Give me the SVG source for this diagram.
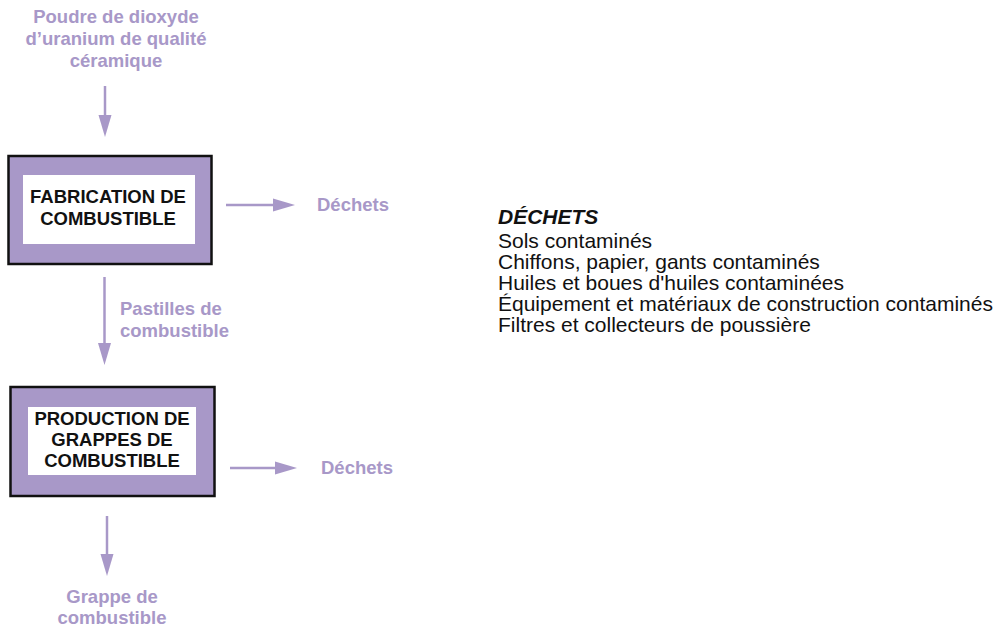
<svg xmlns="http://www.w3.org/2000/svg" width="1006" height="626" viewBox="0 0 1006 626">
<style>
.outer{fill:#a898c8;stroke:#111;stroke-width:2.5}
.inner{fill:#fff}
.box{font-family:"Liberation Sans",Arial,sans-serif;font-weight:bold;font-size:18.5px;fill:#111;text-anchor:middle}
.lbl{font-family:"Liberation Sans",Arial,sans-serif;font-weight:bold;font-size:18.5px;fill:#a898c8}
.mid{text-anchor:middle}
.conn{stroke:#a898c8;stroke-width:2.5;fill:none;marker-end:url(#ah)}
.list{font-family:"Liberation Sans",Arial,sans-serif;font-size:21px;fill:#111}
</style>
<defs>
<marker id="ah" markerUnits="userSpaceOnUse" markerWidth="22" markerHeight="14" refX="12" refY="7" orient="auto">
<path d="M0,0.5 L22,7 L0,13.5 z" fill="#a898c8"/>
</marker>
</defs>
<g id="source">
<text class="lbl mid" x="116" y="23">Poudre de dioxyde</text>
<text class="lbl mid" x="116" y="45">d’uranium de qualité</text>
<text class="lbl mid" x="116" y="67">céramique</text>
</g>
<g id="fabrication">
<rect class="outer" x="8.5" y="156" width="203" height="108"/>
<rect class="inner" x="23" y="175" width="172" height="69"/>
<text class="box" x="108" y="203">FABRICATION DE</text>
<text class="box" x="108" y="225">COMBUSTIBLE</text>
</g>
<g id="dechets1">
<text class="lbl" x="317" y="211">Déchets</text>
</g>
<g id="pastilles">
<text class="lbl" x="120" y="315">Pastilles de</text>
<text class="lbl" x="120" y="337">combustible</text>
</g>
<g id="production">
<rect class="outer" x="10.5" y="387" width="204" height="109"/>
<rect class="inner" x="28" y="407" width="168" height="68"/>
<text class="box" x="112" y="425">PRODUCTION DE</text>
<text class="box" x="112" y="446">GRAPPES DE</text>
<text class="box" x="112" y="467">COMBUSTIBLE</text>
</g>
<g id="dechets2">
<text class="lbl" x="321" y="474">Déchets</text>
</g>
<g id="grappe">
<text class="lbl mid" x="112" y="603">Grappe de</text>
<text class="lbl mid" x="112" y="624">combustible</text>
</g>
<g id="legend">
<text class="list" x="498" y="224" font-weight="bold" font-style="italic">DÉCHETS</text>
<text class="list" x="498" y="248">Sols contaminés</text>
<text class="list" x="498" y="269">Chiffons, papier, gants contaminés</text>
<text class="list" x="498" y="290">Huiles et boues d'huiles contaminées</text>
<text class="list" x="498" y="311">Équipement et matériaux de construction contaminés</text>
<text class="list" x="498" y="332">Filtres et collecteurs de poussière</text>
</g>
<g id="connectors">
<line class="conn" x1="105" y1="86" x2="105" y2="127"/>
<line class="conn" x1="226" y1="205" x2="285" y2="205"/>
<line class="conn" x1="104.5" y1="277" x2="104.5" y2="355"/>
<line class="conn" x1="230" y1="468" x2="287" y2="468"/>
<line class="conn" x1="107" y1="516" x2="107" y2="566"/>
</g>
</svg>
